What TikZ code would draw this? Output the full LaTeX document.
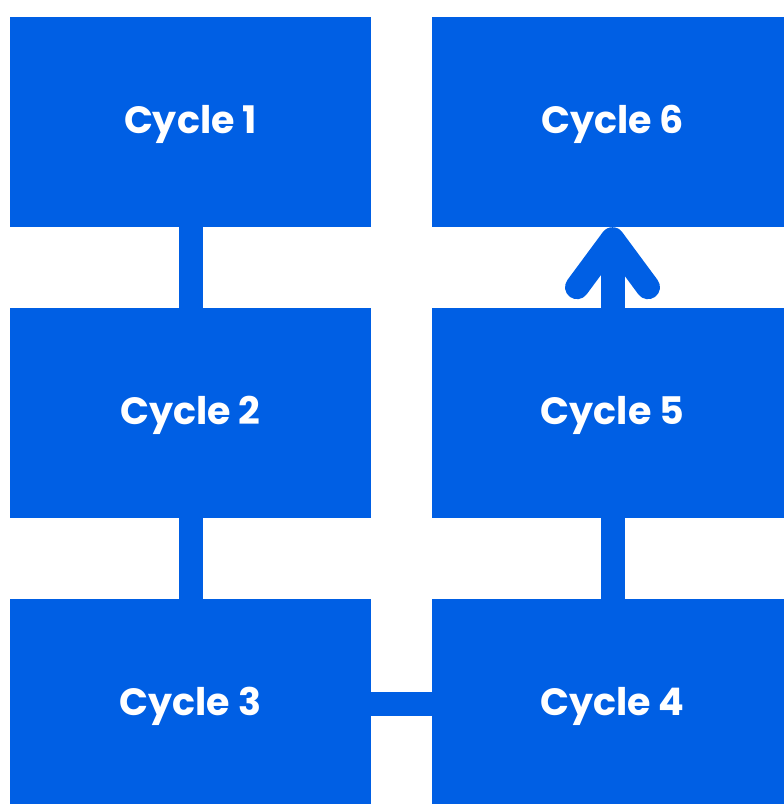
\documentclass[tikz,border=0pt]{standalone}
\usepackage{fontspec}
\setmainfont{Poppins}[BoldFont={* Bold}]
\definecolor{cblue}{HTML}{005FE4}
\begin{document}
\begin{tikzpicture}[x=1pt,y=-1pt,
  cyclebox/.style={fill=cblue, draw=none, minimum width=361pt, minimum height=210pt,
    inner sep=0pt, text depth=5pt, text=white, font=\fontsize{38}{40}\selectfont\bfseries},
  link/.style={draw=cblue, line width=24pt}]
\useasboundingbox (0,0) rectangle (784,804);
\clip (0,0) rectangle (784,804);
\node[cyclebox] (c1) at (190.5,122) {Cycle 1};
\node[cyclebox] (c2) at (190.5,413) {Cycle 2};
\node[cyclebox] (c3) at (190.5,704) {Cycle 3};
\node[cyclebox] (c4) at (612.5,704) {Cycle 4};
\node[cyclebox] (c5) at (612.5,413) {Cycle 5};
\node[cyclebox] (c6) at (612.5,122) {Cycle 6};
\draw[link] (c1) -- (c2);
\draw[link] (c2) -- (c3);
\draw[link] (c3) -- (c4);
\draw[link] (c4) -- (c5);
\coordinate (tip) at ([yshift=-12pt]c6.south);
\draw[link] (c5.north) -- (tip);
\draw[link, line cap=round, line join=round]
  ([shift={(-35.5pt,-48pt)}]tip) -- (tip) -- ([shift={(35.5pt,-48pt)}]tip);
\end{tikzpicture}
\end{document}
